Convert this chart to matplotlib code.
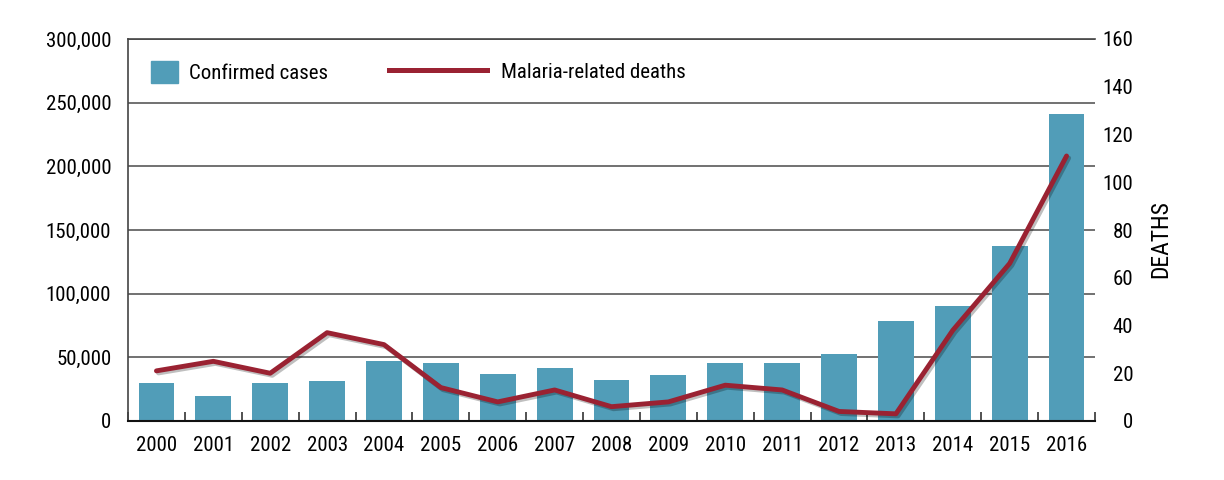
import numpy as np
import matplotlib.pyplot as plt
import matplotlib.patheffects as pe
from matplotlib import font_manager
from matplotlib.ticker import FuncFormatter, FixedLocator
from matplotlib.patches import Patch
from matplotlib.lines import Line2D

# condensed face if there is one, else a narrow-ish sans
fam, fs = 'DejaVu Sans', 14
for name, size in [('Roboto Condensed', 15), ('Liberation Sans Narrow', 15),
                   ('Open Sans Condensed', 15), ('Liberation Sans', 14.5)]:
    try:
        font_manager.findfont(name, fallback_to_default=False)
        fam, fs = name, size
        break
    except ValueError:
        pass
plt.rcParams['font.family'] = [fam, 'DejaVu Sans']

years = ['2000', '2001', '2002', '2003', '2004', '2005', '2006', '2007', '2008',
         '2009', '2010', '2011', '2012', '2013', '2014', '2015', '2016']
cases = [29700, 20000, 29800, 31500, 46800, 45200, 37000, 41700, 32000,
         36100, 45300, 45800, 52600, 78900, 90700, 137200, 241000]
deaths = [21, 25, 20, 37, 32, 14, 8, 13, 6, 8, 15, 13, 4, 3, 38, 66, 111]

bar_color = '#519db8'
line_color = '#9a2232'

W, H = 1224, 480
fig = plt.figure(figsize=(W / 100, H / 100), dpi=100)
# axes box: x 128..1095 px, y 39..421 px
ax = fig.add_axes([128 / W, 1 - 421 / H, (1095 - 128) / W, (421 - 39) / H])
x = np.arange(len(years))

ax.set_axisbelow(True)
ax.yaxis.grid(True, color='#666666', linewidth=1.3)
ax.bar(x, cases, width=0.63, color=bar_color, zorder=2)
ax.set_xlim(-0.5, len(years) - 0.5)
ax.set_ylim(0, 300000)
ax.set_yticks(np.arange(0, 300001, 50000))
ax.yaxis.set_major_formatter(FuncFormatter(lambda v, p: f'{int(v):,}'))
ax.set_xticks(x)
ax.set_xticklabels(years)
ax.xaxis.set_minor_locator(FixedLocator(np.arange(-0.5, len(years), 1.0)))
ax.tick_params(axis='x', which='major', length=0, labelsize=fs, pad=11)
ax.tick_params(axis='x', which='minor', direction='in', length=6.5, width=1.1,
               color='#222')
ax.tick_params(axis='y', length=0, labelsize=fs, pad=12)
ax.spines['right'].set_visible(False)
ax.spines['top'].set_color('#444')
ax.spines['top'].set_linewidth(1.2)
ax.spines['left'].set_color('#444')
ax.spines['left'].set_linewidth(1.2)
ax.spines['bottom'].set_color('#111')
ax.spines['bottom'].set_linewidth(1.5)

ax2 = ax.twinx()
ax2.plot(x, deaths, color=line_color, linewidth=3.5, solid_capstyle='round',
         zorder=3,
         path_effects=[pe.SimpleLineShadow(offset=(1.5, -1.5), alpha=0.25),
                       pe.Normal()])
ax2.set_ylim(0, 160)
ax2.set_yticks(np.arange(0, 161, 20))
ax2.tick_params(axis='y', length=0, labelsize=fs, pad=27.5)
for lab in ax2.get_yticklabels():
    lab.set_horizontalalignment('right')
ax2.set_ylabel('DEATHS', fontsize=17, rotation=90, ha='center', va='center')
ax2.yaxis.set_label_coords((1161 - 128) / (1095 - 128), (421 - 239) / (421 - 39))
for s in ['top', 'right', 'left', 'bottom']:
    ax2.spines[s].set_visible(False)

em = fs * 100 / 72.0
leg_y = (421 - 72) / (421 - 39)
ax2.add_artist(ax2.legend(
    handles=[Patch(color=bar_color, label='Confirmed cases')],
    loc='center left', bbox_to_anchor=((151 - 128) / 967, leg_y), frameon=False,
    fontsize=fs, borderpad=0, borderaxespad=0,
    handlelength=27 / em, handleheight=26 / em, handletextpad=11 / em))
ax2.legend(handles=[Line2D([], [], color=line_color, linewidth=3.6,
                           label='Malaria-related deaths')],
           loc='center left', bbox_to_anchor=((389 - 128) / 967, leg_y),
           frameon=False, fontsize=fs, borderpad=0, borderaxespad=0,
           handlelength=98 / em, handletextpad=14 / em)

fig.savefig('out.png', dpi=100)
